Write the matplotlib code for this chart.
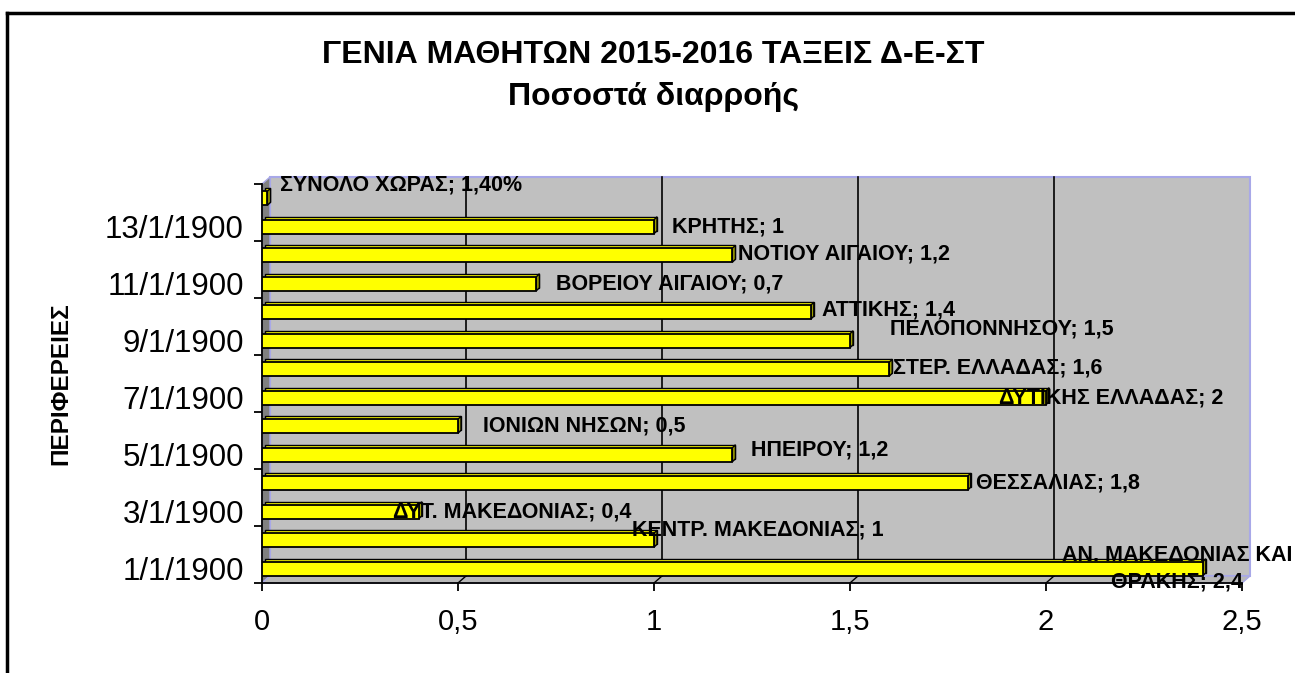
import numpy as np
import matplotlib.pyplot as plt
from matplotlib.patches import Rectangle, Polygon
from matplotlib.lines import Line2D

plt.rcParams['font.family'] = ['Liberation Sans', 'DejaVu Sans']

# ---- data (bottom to top)
regions = ['ΑΝ. ΜΑΚΕΔΟΝΙΑΣ ΚΑΙ\nΘΡΑΚΗΣ', 'ΚΕΝΤΡ. ΜΑΚΕΔΟΝΙΑΣ', 'ΔΥΤ. ΜΑΚΕΔΟΝΙΑΣ',
           'ΘΕΣΣΑΛΙΑΣ', 'ΗΠΕΙΡΟΥ', 'ΙΟΝΙΩΝ ΝΗΣΩΝ', 'ΔΥΤΙΚΗΣ ΕΛΛΑΔΑΣ',
           'ΣΤΕΡ. ΕΛΛΑΔΑΣ', 'ΠΕΛΟΠΟΝΝΗΣΟΥ', 'ΑΤΤΙΚΗΣ', 'ΒΟΡΕΙΟΥ ΑΙΓΑΙΟΥ',
           'ΝΟΤΙΟΥ ΑΙΓΑΙΟΥ', 'ΚΡΗΤΗΣ', 'ΣΥΝΟΛΟ ΧΩΡΑΣ']
values = [2.4, 1, 0.4, 1.8, 1.2, 0.5, 2, 1.6, 1.5, 1.4, 0.7, 1.2, 1, 0.014]
ytick_labels = ['1/1/1900', '3/1/1900', '5/1/1900', '7/1/1900',
                '9/1/1900', '11/1/1900', '13/1/1900']
xtick_labels = ['0', '0,5', '1', '1,5', '2', '2,5']

# where excel put each data label (x in data units, y shift in categories)
lab_x = [2.335, 0.944, 0.334, 1.821, 1.247, 0.564, 1.880, 1.61, 1.602, 1.429,
         0.75, 1.214, 1.046, 0.046]
lab_dy = [0, 0.35, 0, 0, 0.17, 0, 0, 0.05, 0.40, 0.07, 0, 0.03, 0, 0.45]

W, H = 1295, 673
fig = plt.figure(figsize=(W / 100, H / 100), dpi=100)
fig.patch.set_facecolor('white')

# front plane of the 3d box in pixels
x0, x1, yb, yt = 262, 1242, 583, 184
ax = fig.add_axes([x0 / W, 1 - yb / H, (x1 - x0) / W, (yb - yt) / H])
ax.set_xlim(0, 2.5)
ax.set_ylim(0.5, 14.5)
ax.patch.set_visible(False)

px_x = 2.5 / (x1 - x0)
px_y = 14 / (yb - yt)
ddx, ddy = 8 * px_x, 7 * px_y   # depth of the box

# back wall, side wall, floor
ax.add_patch(Rectangle((ddx, 0.5 + ddy), 2.5, 14, facecolor='#c0c0c0',
                       edgecolor='#a8a8e8', lw=1.5, zorder=0, clip_on=False))
ax.add_patch(Polygon([(0, 0.5), (0, 14.5), (ddx, 14.5 + ddy), (ddx, 0.5 + ddy)],
                     facecolor='#808080', edgecolor='#a8a8e8', lw=1, zorder=0.5, clip_on=False))
ax.add_patch(Polygon([(0, 0.5), (2.5, 0.5), (2.5 + ddx, 0.5 + ddy), (ddx, 0.5 + ddy)],
                     facecolor='#b8b8b8', edgecolor='#a8a8e8', lw=1, zorder=0.5, clip_on=False))

# gridlines on the back wall
for g in [0.5, 1, 1.5, 2]:
    ax.plot([g + ddx, g + ddx], [0.5 + ddy, 14.5 + ddy], color='black', lw=1.2, zorder=1, clip_on=False)
    ax.plot([g, g + ddx], [0.5, 0.5 + ddy], color='black', lw=1, zorder=1, clip_on=False)

# bars with a bit of 3d depth
ypos = np.arange(1, len(values) + 1)
h = 0.49
bdx, bdy = 3 * px_x, 3 * px_y
ax.barh(ypos + bdy, values, left=bdx, height=h, color='#ffff00', edgecolor='black', lw=1, zorder=2)
for y, v in zip(ypos, values):
    ax.add_patch(Polygon([(v, y - h / 2), (v, y + h / 2), (v + bdx, y + h / 2 + bdy),
                          (v + bdx, y - h / 2 + bdy)], facecolor='#a0a000',
                         edgecolor='black', lw=1, zorder=2.5))
ax.barh(ypos, values, height=h, color='#ffff00', edgecolor='black', lw=1.3, zorder=3)

# data labels
for i, (name, v) in enumerate(zip(regions, values)):
    if i == len(values) - 1:
        vt = '{:.2f}%'.format(v * 100).replace('.', ',')
    else:
        vt = '{:g}'.format(v).replace('.', ',')
    if i == 0:
        ax.text(lab_x[i], ypos[i] + lab_dy[i], name + '; ' + vt, fontsize=15.5, fontweight='bold',
                ha='center', va='center', linespacing=1.3, zorder=5, clip_on=False)
    else:
        ax.text(lab_x[i], ypos[i] + lab_dy[i], name + '; ' + vt, fontsize=15.5, fontweight='bold',
                ha='left', va='center', zorder=5, clip_on=False)

# axes
for s in ['top', 'right']:
    ax.spines[s].set_visible(False)
ax.spines['left'].set_linewidth(1.3)
ax.spines['bottom'].set_linewidth(1.3)
ax.set_xticks([0, 0.5, 1, 1.5, 2, 2.5])
ax.set_xticklabels(xtick_labels, fontsize=21)
ax.tick_params(axis='x', length=6, width=1.3, pad=12)
ax.set_yticks(np.arange(1, 14, 2))
ax.set_yticklabels(ytick_labels, fontsize=22.5)
ax.set_yticks(np.arange(0.5, 14.6, 2), minor=True)
ax.tick_params(axis='y', which='major', length=0, pad=13)
ax.tick_params(axis='y', which='minor', length=6, width=1.3)

fig.text(61 / W, 1 - 384 / H, 'ΠΕΡΙΦΕΡΕΙΕΣ', rotation=90, fontsize=17.5, fontweight='bold',
         ha='center', va='center')
fig.text(653 / W, 1 - 55 / H, 'ΓΕΝΙΑ ΜΑΘΗΤΩΝ 2015-2016 ΤΑΞΕΙΣ Δ-Ε-ΣΤ', fontsize=23,
         fontweight='bold', ha='center', va='center')
fig.text(653 / W, 1 - 97 / H, 'Ποσοστά διαρροής', fontsize=23, fontweight='bold',
         ha='center', va='center')

# chart border (cut off on the right and bottom)
fig.add_artist(Line2D([7 / W, 7 / W], [0, 1 - 13 / H], transform=fig.transFigure, color='black', lw=2.5))
fig.add_artist(Line2D([7 / W, 1], [1 - 13 / H, 1 - 13 / H], transform=fig.transFigure, color='black', lw=2.5))

fig.savefig('out.png', dpi=100)
